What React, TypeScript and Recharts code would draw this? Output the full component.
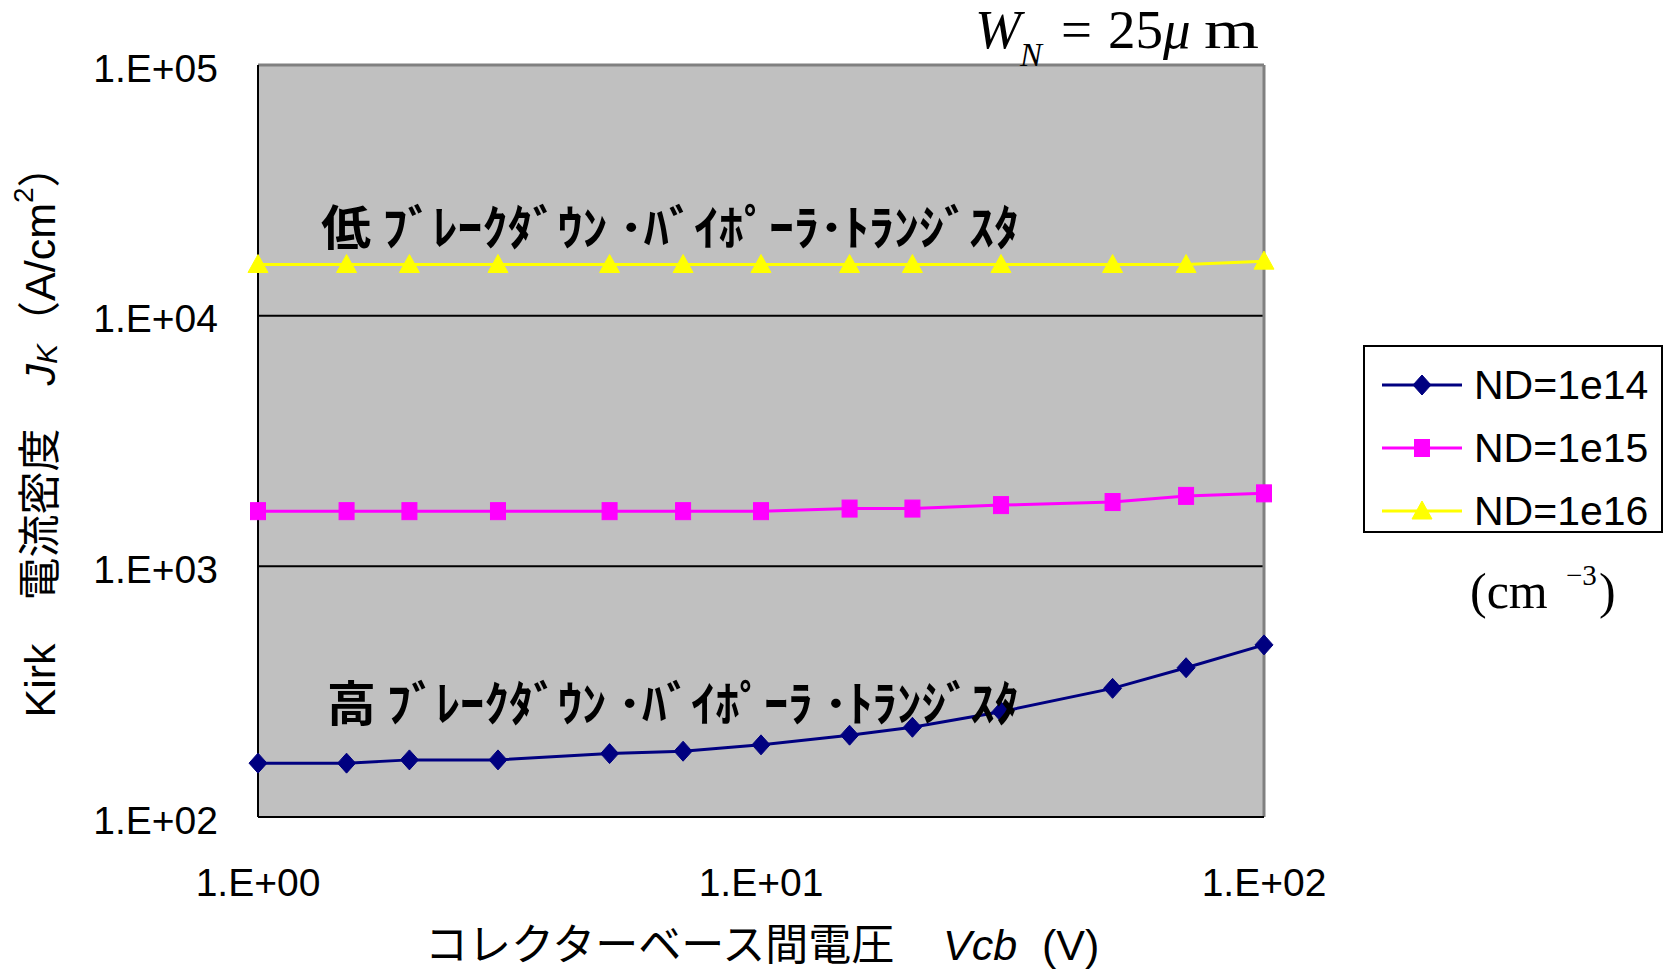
import { CartesianGrid, Legend, Line, LineChart, ReferenceLine, XAxis, YAxis } from "recharts";

const XV = [1, 1.5, 2, 3, 5, 7, 10, 15, 20, 30, 50, 70, 100];
const ND14 = [164, 164, 169, 169, 179, 183, 194, 212, 228, 263, 326, 394, 486];
const ND15 = [1660, 1660, 1660, 1660, 1660, 1660, 1660, 1700, 1700, 1755, 1805, 1910, 1955];
const ND16 = [16000, 16000, 16000, 16000, 16000, 16000, 16000, 16000, 16000, 16000, 16000, 16000, 16500];
const X_TICKS = [1, 10, 100];
const Y_TICKS = [100, 1000, 10000, 100000];
const SERIES = [
  { key: "nd14", name: "ND=1e14", color: "#000080", marker: "diamond" },
  { key: "nd15", name: "ND=1e15", color: "#ff00ff", marker: "square" },
  { key: "nd16", name: "ND=1e16", color: "#ffff00", marker: "triangle" },
];

const data = XV.map((v, i) => ({ v, nd14: ND14[i], nd15: ND15[i], nd16: ND16[i] }));

const expLabel = (v: number) => {
  const e = Math.round(Math.log10(v));
  return `1.E+${e < 10 ? "0" : ""}${e}`;
};

function Marker({ type, cx, cy, color }: { type: string; cx: number; cy: number; color: string }) {
  if (type === "diamond") {
    return <polygon points={`${cx},${cy - 10} ${cx + 9},${cy} ${cx},${cy + 10} ${cx - 9},${cy}`} fill={color} stroke={color} />;
  }
  if (type === "square") {
    return <rect x={cx - 7.5} y={cy - 8.5} width={15} height={17} fill={color} stroke={color} />;
  }
  return <polygon points={`${cx},${cy - 10} ${cx + 10},${cy + 8} ${cx - 10},${cy + 8}`} fill={color} stroke={color} />;
}

function LegendBox() {
  return (
    <svg width={300} height={188} style={{ display: "block" }}>
      <rect x={1} y={1} width={298} height={186} fill="#fff" stroke="#000" strokeWidth={2} />
      {SERIES.map((s, i) => {
        const cy = 40 + i * 63;
        return (
          <g key={s.key}>
            <line x1={19} x2={99} y1={cy} y2={cy} stroke={s.color} strokeWidth={3} />
            <Marker type={s.marker} cx={59} cy={cy} color={s.color} />
            <text x={111} y={cy} dominantBaseline="central" fontFamily="Liberation Sans" fontSize={41}>
              {s.name}
            </text>
          </g>
        );
      })}
    </svg>
  );
}

export default function App() {
  return (
    <div style={{ position: "absolute", left: 0, top: 0, width: 1665, height: 971, background: "#fff" }}>
      <LineChart width={1665} height={971} data={data} margin={{ top: 65, right: 101, bottom: 0, left: 0 }}>
        <CartesianGrid fill="#c0c0c0" horizontal={false} vertical={false} />
        <XAxis
          dataKey="v"
          type="number"
          scale="log"
          domain={[1, 100]}
          ticks={X_TICKS}
          height={154}
          tickLine={false}
          axisLine={{ stroke: "#000", strokeWidth: 2 }}
          tick={({ x, payload }: any) => (
            <text x={x} y={882} textAnchor="middle" dominantBaseline="central" fontFamily="Liberation Sans" fontSize={39} fill="#000">
              {expLabel(payload.value)}
            </text>
          )}
        />
        <YAxis
          type="number"
          scale="log"
          domain={[100, 100000]}
          ticks={Y_TICKS}
          width={258}
          tickLine={false}
          axisLine={{ stroke: "#000", strokeWidth: 2 }}
          tick={({ y, payload }: any) => (
            <text x={218} y={y + 3} textAnchor="end" dominantBaseline="central" fontFamily="Liberation Sans" fontSize={39} fill="#000">
              {expLabel(payload.value)}
            </text>
          )}
        />
        <ReferenceLine y={1000} stroke="#000" strokeWidth={2} />
        <ReferenceLine y={10000} stroke="#000" strokeWidth={2} />
        <ReferenceLine y={100000} stroke="#808080" strokeWidth={3} />
        <ReferenceLine x={100} stroke="#808080" strokeWidth={3} />
        <Legend
          layout="vertical"
          align="right"
          verticalAlign="middle"
          wrapperStyle={{ left: 1363, top: 345, right: "auto", bottom: "auto", width: 300, height: 188 }}
          content={() => <LegendBox />}
        />
        {SERIES.map((s) => (
          <Line
            key={s.key}
            dataKey={s.key}
            name={s.name}
            type="linear"
            stroke={s.color}
            strokeWidth={3}
            isAnimationActive={false}
            activeDot={false}
            dot={(p: any) => <Marker key={`${s.key}-${p.index}`} type={s.marker} cx={p.cx} cy={p.cy} color={s.color} />}
          />
        ))}
      </LineChart>
      <svg width={1665} height={971} style={{ position: "absolute", left: 0, top: 0, pointerEvents: "none" }}>
        <text y={48} fontFamily="Liberation Serif" fontSize={55} fill="#000">
          <tspan x={975} fontStyle="italic">W</tspan>
          <tspan x={1020} y={66} fontSize={33} fontStyle="italic">N</tspan>
          <tspan x={1061} y={48}>=</tspan>
          <tspan x={1108}>25</tspan>
          <tspan fontStyle="italic">μ</tspan>
        </text>
        <text x={1204} y={48} fontFamily="Liberation Serif" fontSize={55} fill="#000" textLength={55} lengthAdjust="spacingAndGlyphs">
          m
        </text>
        <text y={608} fontFamily="Liberation Serif" fontSize={50} fill="#000">
          <tspan x={1470}>(cm</tspan>
          <tspan x={1566} y={585} fontSize={29}>−3</tspan>
          <tspan x={1599} y={608}>)</tspan>
        </text>
        <text
          x={321}
          y={224}
          dominantBaseline="central"
          fontFamily="Noto Sans CJK JP"
          fontWeight="bold"
          fontSize={48}
          textLength={698}
          lengthAdjust="spacingAndGlyphs"
        >
          低 ﾌﾞﾚｰｸﾀﾞｳﾝ ･ﾊﾞｲﾎﾟｰﾗ･ﾄﾗﾝｼﾞｽﾀ
        </text>
        <text
          x={327}
          y={700}
          dominantBaseline="central"
          fontFamily="Noto Sans CJK JP"
          fontWeight="bold"
          fontSize={48}
          textLength={692}
          lengthAdjust="spacingAndGlyphs"
        >
          高 ﾌﾞﾚｰｸﾀﾞｳﾝ ･ﾊﾞｲﾎﾟｰﾗ ･ﾄﾗﾝｼﾞｽﾀ
        </text>
        <text y={945} dominantBaseline="central" fontFamily="Liberation Sans, Noto Sans CJK JP" fontSize={43} fill="#000">
          <tspan x={425}>コレクターベース間電圧</tspan>
          <tspan x={943} fontStyle="italic">Vcb</tspan>
          <tspan x={1042}>(V)</tspan>
        </text>
        <text
          transform="translate(40,431) rotate(-90)"
          textAnchor="middle"
          dominantBaseline="central"
          fontFamily="Liberation Sans, Noto Sans CJK JP"
          fontSize={43}
          fill="#000"
        >
          <tspan>Kirk　電流密度　</tspan>
          <tspan fontStyle="italic">J</tspan>
          <tspan fontStyle="italic" fontSize={30} dy={6}>K</tspan>
          <tspan dy={-6}>（A/cm</tspan>
          <tspan fontSize={28} dy={-17}>2</tspan>
          <tspan dy={17}>）</tspan>
        </text>
      </svg>
    </div>
  );
}
